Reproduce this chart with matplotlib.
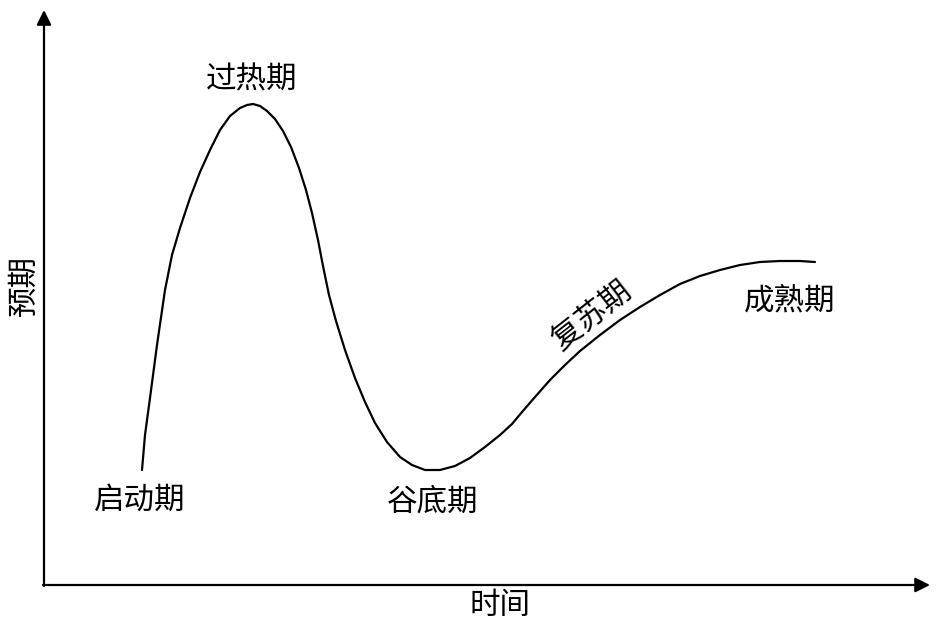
import matplotlib.pyplot as plt
import numpy as np

plt.rcParams['font.family'] = ['Noto Sans CJK SC', 'DejaVu Sans']

# curve, in pixel coordinates (y downwards)
curve_x = [142, 145, 150, 157, 165, 172, 180, 190, 200, 210, 220, 230, 240, 247, 253,
           260, 267, 275, 283, 291, 299, 306, 312, 318, 323, 329, 336, 345, 355, 365,
           375, 387, 400, 412, 425, 440, 455, 470, 485, 500, 512, 522, 535, 550, 565,
           580, 600, 620, 640, 660, 680, 700, 720, 740, 760, 780, 800, 815]
curve_y = [470, 435, 398, 345, 290, 255, 228, 198, 172, 150, 130, 116, 108, 105, 104,
           106, 111, 119, 131, 147, 168, 190, 213, 240, 266, 295, 321, 350, 378, 402,
           423, 442, 457, 465, 470, 470, 466, 458, 447, 435, 424, 412, 397, 380, 365,
           351, 335, 320, 307, 295, 284, 276, 270, 265, 262, 261, 261, 262]

labels = ['启动期', '过热期', '谷底期', '复苏期', '成熟期']
label_x = [140, 252, 433, 592, 790]
label_y = [500, 80, 502, 316, 301]
label_rot = [0, 0, 0, 38, 0]

x_title = '时间'
y_title = '预期'

fig = plt.figure(figsize=(9.36, 6.28), dpi=100)
ax = fig.add_axes([0, 0, 1, 1])
ax.set_xlim(0, 936)
ax.set_ylim(628, 0)
ax.axis('off')

# axes with arrows
ax.annotate('', xy=(930, 585), xytext=(43, 585),
            arrowprops=dict(arrowstyle='-|>', color='black', lw=1.6,
                            mutation_scale=22, shrinkA=0, shrinkB=0))
ax.annotate('', xy=(44, 10), xytext=(44, 586),
            arrowprops=dict(arrowstyle='-|>', color='black', lw=1.6,
                            mutation_scale=22, shrinkA=0, shrinkB=0))

ax.plot(curve_x, curve_y, color='black', lw=1.6, solid_capstyle='round')

for t, x, y, r in zip(labels, label_x, label_y, label_rot):
    ax.text(x, y, t, fontsize=22, ha='center', va='center', rotation=r,
            rotation_mode='anchor')

ax.text(500, 605, x_title, fontsize=22, ha='center', va='center')
ax.text(24, 285, y_title, fontsize=22, ha='center', va='center', rotation=90)

fig.savefig('out.png', dpi=100, facecolor='white')
